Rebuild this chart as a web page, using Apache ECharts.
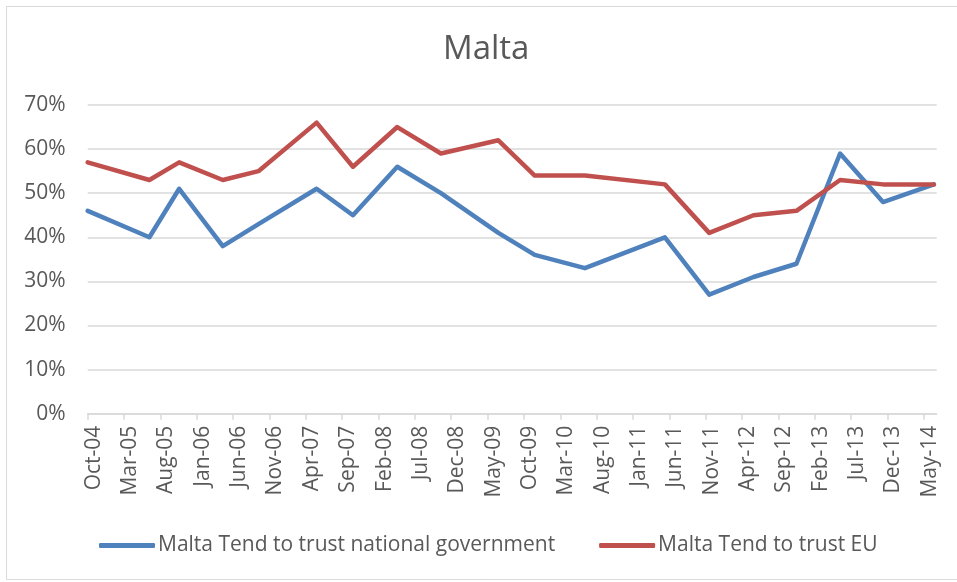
<!DOCTYPE html>
<html>
<head>
<meta charset="utf-8">
<script src="https://cdn.jsdelivr.net/npm/echarts@6/dist/echarts.min.js"></script>
<style>
  html, body { margin: 0; padding: 0; background: #fff; }
  #chart { width: 957px; height: 582px; }
</style>
</head>
<body>
<div id="chart"></div>
<script>
// survey fieldwork dates (x positions on a date axis)
const surveyDates = [
  '2004-10-01', '2005-06-16', '2005-10-19', '2006-04-19', '2006-09-16',
  '2007-05-16', '2007-10-16', '2008-04-19', '2008-10-19', '2009-06-16',
  '2009-11-16', '2010-06-13', '2011-05-13', '2011-11-16', '2012-05-19',
  '2012-11-16', '2013-05-16', '2013-11-13', '2014-06-13',
]
const trustGovernment = [46, 40, 51, 38, 43, 51, 45, 56, 50, 41, 36, 33, 40, 27, 31, 34, 59, 48, 52]
const trustEU = [57, 53, 57, 53, 55, 66, 56, 65, 59, 62, 54, 54, 52, 41, 45, 46, 53, 52, 52]

const xTickLabels = [
  'Oct-04', 'Mar-05', 'Aug-05', 'Jan-06', 'Jun-06', 'Nov-06', 'Apr-07', 'Sep-07',
  'Feb-08', 'Jul-08', 'Dec-08', 'May-09', 'Oct-09', 'Mar-10', 'Aug-10', 'Jan-11',
  'Jun-11', 'Nov-11', 'Apr-12', 'Sep-12', 'Feb-13', 'Jul-13', 'Dec-13', 'May-14',
]
const xTickStep = 5 // months between tick labels
const axisStartDate = '2004-10-01'
const axisEndDate = '2014-06-25'
const yTicks = [0, 10, 20, 30, 40, 50, 60, 70]

const seriesNames = ['Malta Tend to trust national government', 'Malta Tend to trust EU']

// months elapsed since the axis start
const monthsFromStart = (dateStr) => {
  const [y, m, d] = dateStr.split('-').map(Number)
  const [y0, m0, d0] = axisStartDate.split('-').map(Number)
  return (y - y0) * 12 + (m - m0) + (d - d0) / 31
}

const toPoints = (values) => values.map((v, i) => [monthsFromStart(surveyDates[i]), v])

const tickValues = xTickLabels.map((_, i) => i * xTickStep)

const textColor = '#595959'
const gridColor = '#d9d9d9'
const fontFamily = '"Open Sans", sans-serif'

const chart = echarts.init(document.getElementById('chart'), null, { renderer: 'canvas' })

chart.setOption({
  backgroundColor: '#fff',
  animation: false,
  graphic: [
    {
      type: 'rect',
      shape: { x: 6.5, y: 6.5, width: 960, height: 573 },
      style: { fill: 'none', stroke: '#d9d9d9', lineWidth: 1 },
      silent: true,
    },
  ],
  title: {
    text: 'Malta',
    left: 438,
    top: 28,
    textStyle: {
      fontFamily,
      fontSize: 33,
      fontWeight: 'normal',
      color: textColor,
    },
  },
  grid: {
    left: 87.7,
    right: 20.3,
    top: 105,
    bottom: 168.3,
    containLabel: false,
  },
  legend: {
    left: 94,
    top: 530,
    itemWidth: 56,
    itemHeight: 5,
    itemGap: 44,
    icon: 'roundRect',
    textStyle: {
      fontFamily,
      fontSize: 21,
      color: textColor,
      padding: [0, 0, 0, -2],
    },
    data: seriesNames,
  },
  xAxis: {
    type: 'value',
    min: 0,
    max: monthsFromStart(axisEndDate),
    interval: xTickStep,
    axisLine: { show: true, lineStyle: { color: gridColor, width: 1.5 } },
    axisTick: {
      show: true,
      length: 6,
      customValues: tickValues,
      lineStyle: { color: gridColor, width: 1.5 },
    },
    splitLine: { show: false },
    axisLabel: {
      rotate: 90,
      margin: 12,
      customValues: tickValues,
      fontFamily,
      fontSize: 21,
      lineHeight: 12,
      align: 'right',
      verticalAlign: 'top',
      color: textColor,
      formatter: (v) => xTickLabels[Math.round(v / xTickStep)] || '',
    },
  },
  yAxis: {
    type: 'value',
    min: yTicks[0],
    max: yTicks[yTicks.length - 1],
    interval: 10,
    axisLine: { show: false },
    axisTick: { show: false },
    splitLine: { lineStyle: { color: gridColor, width: 1.5 } },
    axisLabel: {
      margin: 22,
      fontFamily,
      fontSize: 21,
      color: textColor,
      formatter: '{value}%',
    },
  },
  series: [
    {
      name: seriesNames[0],
      type: 'line',
      data: toPoints(trustGovernment),
      showSymbol: false,
      symbol: 'none',
      color: '#4f81bd',
      lineStyle: { width: 4.5, color: '#4f81bd', cap: 'round', join: 'round' },
    },
    {
      name: seriesNames[1],
      type: 'line',
      data: toPoints(trustEU),
      showSymbol: false,
      symbol: 'none',
      color: '#c0504d',
      lineStyle: { width: 4.5, color: '#c0504d', cap: 'round', join: 'round' },
    },
  ],
})
</script>
</body>
</html>
